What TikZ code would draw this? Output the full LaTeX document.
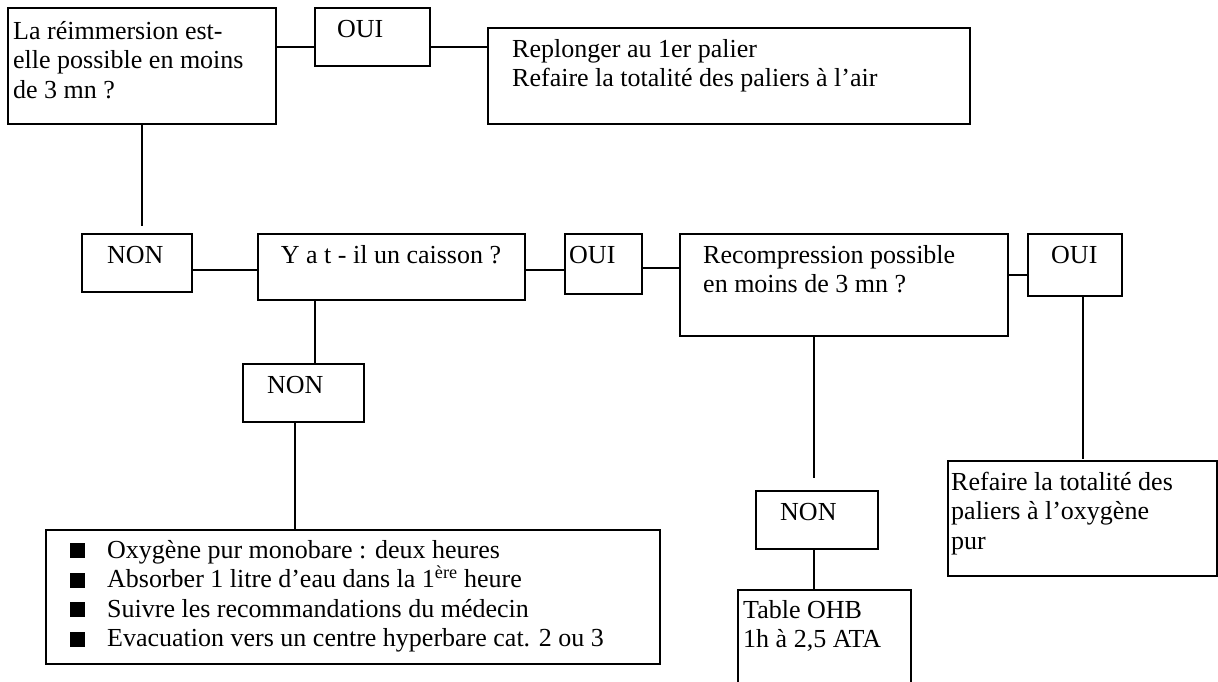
\documentclass[tikz,border=0pt]{standalone}
\usepackage{fontspec}
\setmainfont{Liberation Serif}
\tikzset{
  box/.style={draw, line width=1.5pt, rectangle, inner sep=0pt, outer sep=0pt, anchor=north west},
  txt/.style={inner sep=0pt, anchor=base west, font=\fontsize{26}{29.5}\selectfont},
  ctxt/.style={txt, anchor=base},
  conn/.style={line width=1.5pt},
}
\newcommand{\sqbul}{\makebox[37pt][l]{\rule{15pt}{15pt}}}
\begin{document}
\begin{tikzpicture}[x=1pt,y=-1pt]
\useasboundingbox (0,0) rectangle (1218,681);
\clip (0,0) rectangle (1218,681);
% boxes
\node[box, minimum width=268pt, minimum height=116pt] (q1) at (8,8) {};
\node[box, minimum width=115pt, minimum height=58pt] (oui1) at (315,8) {};
\node[box, minimum width=482pt, minimum height=96pt] (r1) at (488,28) {};
\node[box, minimum width=110pt, minimum height=58pt] (non1) at (82,234) {};
\node[box, minimum width=267pt, minimum height=66pt] (cais) at (258,234) {};
\node[box, minimum width=77pt, minimum height=60pt] (oui2) at (565,234) {};
\node[box, minimum width=328pt, minimum height=102pt] (rec) at (680,234) {};
\node[box, minimum width=94pt, minimum height=62pt] (oui3) at (1028,234) {};
\node[box, minimum width=269pt, minimum height=115pt] (ref) at (948,461) {};
\node[box, minimum width=121pt, minimum height=58pt] (non2) at (243,364) {};
\node[box, minimum width=614pt, minimum height=134pt] (bul) at (46,530) {};
\node[box, minimum width=122pt, minimum height=58pt] (non3) at (756,491) {};
\node[box, minimum width=173pt, minimum height=130pt] (tab) at (738,590) {};
% texts
\node[txt] (tq1) at (13,39) {\parbox[t]{300pt}{La réimmersion est-\\elle possible en moins\\de 3 mn ?}};
\node[txt] (toui1) at (337,37) {OUI};
\node[txt] (tr1) at (512,57) {\parbox[t]{450pt}{Replonger au 1er palier\\Refaire la totalité des paliers à l’air}};
\node[txt] (tnon1) at (107,263) {NON};
\node[ctxt] (tcais) at (391,263) {Y a t - il un caisson ?};
\node[txt] (toui2) at (569,263) {OUI};
\node[txt] (trec) at (703,263) {\parbox[t]{300pt}{Recompression possible\\en moins de 3 mn ?}};
\node[txt] (toui3) at (1051,263) {OUI};
\node[txt] (tnon2) at (267,393) {NON};
\node[txt] (tnon3) at (780,520) {NON};
\node[txt] (tref) at (951,490) {\parbox[t]{260pt}{Refaire la totalité des\\paliers à l’oxygène\\pur}};
\node[txt] (ttab) at (743,618) {\parbox[t]{165pt}{Table OHB\\1h à 2,5 ATA}};
\node[txt] (tbul) at (70,558) {\parbox[t]{590pt}{\sqbul Oxygène pur monobare : deux heures\\
\sqbul Absorber 1 litre d’eau dans la 1\textsuperscript{ère} heure\\
\sqbul Suivre les recommandations du médecin\\
\sqbul Evacuation vers un centre hyperbare cat. 2 ou 3}};
% connectors
\draw[conn] ([yshift=-39pt]q1.north east) coordinate (c1) -- (c1 -| oui1.west);
\draw[conn] ([yshift=-39pt]oui1.north east) coordinate (c2) -- (c2 -| r1.west);
\draw[conn, shorten >=8pt] (q1.south) -- (q1.south |- non1.north);
\draw[conn] ([yshift=-36pt]non1.north east) coordinate (c3) -- (c3 -| cais.west);
\draw[conn] ([yshift=-36pt]cais.north east) coordinate (c4) -- (c4 -| oui2.west);
\draw[conn] ([yshift=-34pt]oui2.north east) coordinate (c5) -- (c5 -| rec.west);
\draw[conn] ([yshift=-41pt]rec.north east) coordinate (c6) -- (c6 -| oui3.west);
\draw[conn] ([xshift=57pt]cais.south west) coordinate (c7) -- (c7 |- non2.north);
\draw[conn] ([xshift=52pt]non2.south west) coordinate (c8) -- (c8 |- bul.north);
\draw[conn, shorten >=13pt] ([xshift=134pt]rec.south west) coordinate (c9) -- (c9 |- non3.north);
\draw[conn] ([xshift=58pt]non3.south west) coordinate (c10) -- (c10 |- tab.north);
\draw[conn, shorten >=2pt] ([xshift=55pt]oui3.south west) coordinate (c11) -- (c11 |- ref.north);
\end{tikzpicture}
\end{document}
